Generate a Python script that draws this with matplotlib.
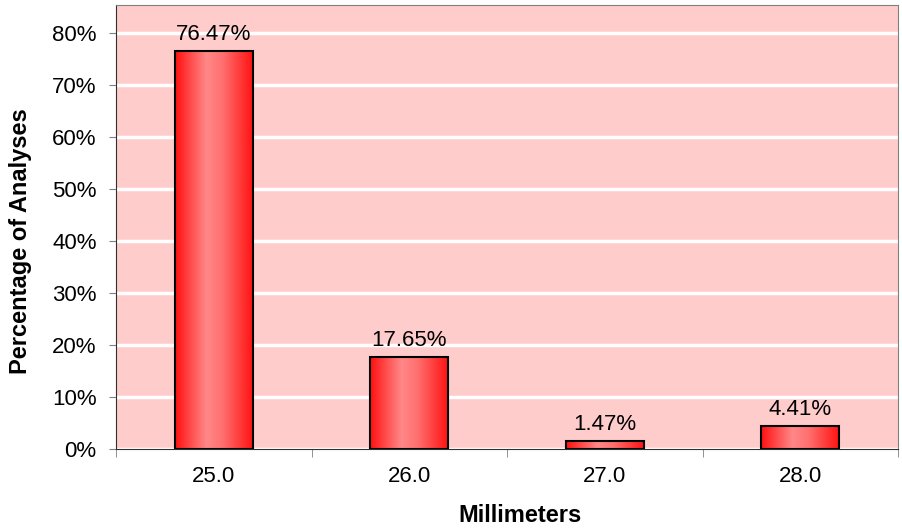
import matplotlib
matplotlib.use('Agg')
import numpy as np
import matplotlib.pyplot as plt
from matplotlib.colors import LinearSegmentedColormap

plt.rcParams['font.family'] = ['Liberation Sans', 'DejaVu Sans']

categories = ["25.0", "26.0", "27.0", "28.0"]
values = [76.47, 17.65, 1.47, 4.41]

fig = plt.figure(figsize=(9.02, 5.32), dpi=100)
ax = fig.add_axes([116 / 902, 1 - 449 / 532, (898 - 116) / 902, (449 - 5) / 532])
ax.set_facecolor('#ffcccc')

x = np.arange(len(categories))
bars = ax.bar(x, values, width=0.4, facecolor='none', edgecolor='black', linewidth=1.5, zorder=3)

# horizontal gradient inside each bar
cmap = LinearSegmentedColormap.from_list('barg', [(0, '#ff1010'), (0.4, '#ff8888'), (0.6, '#ff7070'), (1, '#ff1010')])
grad = np.linspace(0, 1, 256).reshape(1, -1)
for b in bars:
    x0, y0 = b.get_x(), b.get_y()
    im = ax.imshow(grad, cmap=cmap, aspect='auto', extent=[x0, x0 + b.get_width(), y0, y0 + b.get_height()], zorder=2)
    im.set_clip_path(b)

for xi, v in zip(x, values):
    ax.text(xi, v + 1.2, f"{v:.2f}%", ha='center', va='bottom', fontsize=16)

ax.set_xlim(-0.5, len(categories) - 0.5)
ax.set_ylim(0, 85.4)
ax.set_yticks(np.arange(0, 81, 10))
ax.set_yticklabels([f"{t}%" for t in range(0, 81, 10)], fontsize=16)
ax.set_xticks(x)
ax.set_xticklabels(categories, fontsize=16)
ax.set_xticks(np.arange(-0.5, len(categories), 1), minor=True)
ax.tick_params(axis='x', which='major', length=0, pad=12)
ax.tick_params(axis='x', which='minor', length=6, color='#808080')
ax.tick_params(axis='y', length=5, color='#808080', pad=9)
ax.grid(axis='y', color='white', linewidth=2.5, zorder=1)
ax.set_axisbelow(True)

for s in ax.spines.values():
    s.set_color('#808080')
ax.spines['left'].set_color('#303030')
ax.spines['bottom'].set_color('#303030')

ax.set_xlabel('Millimeters', fontsize=17, fontweight='bold')
ax.set_ylabel('Percentage of Analyses', fontsize=17, fontweight='bold', labelpad=14)
ax.xaxis.set_label_coords(0.517, -0.125)
ax.yaxis.label.set_y(0.468)

fig.savefig('out.png', dpi=100)
